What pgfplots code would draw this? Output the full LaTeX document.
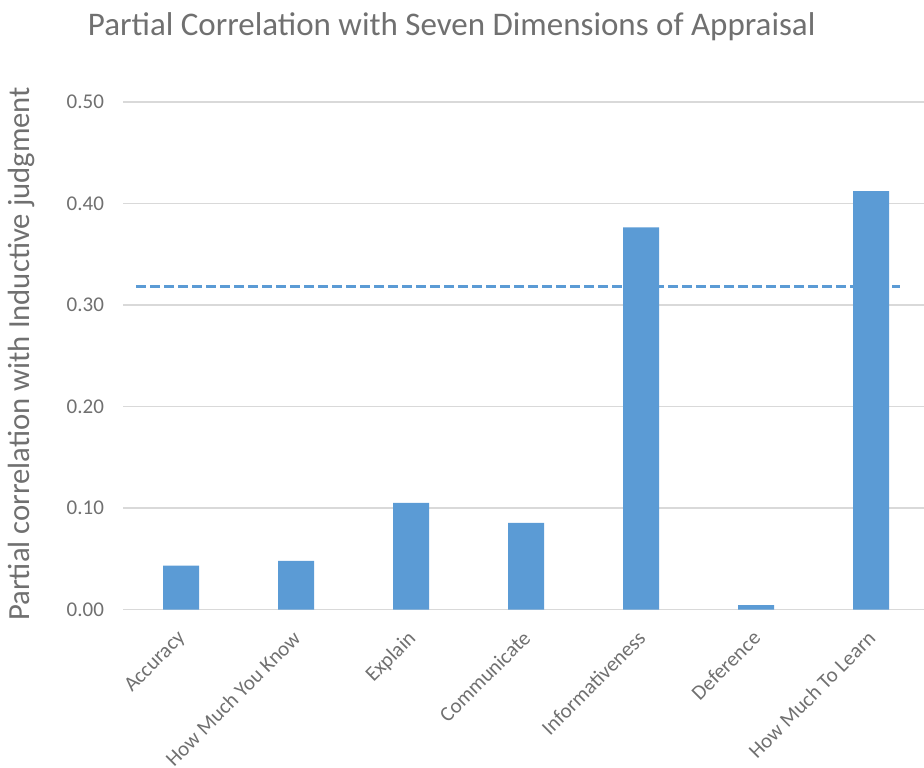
\documentclass[border=0pt]{standalone}
\usepackage{fontspec}
\setmainfont{Carlito}
\usepackage{pgfplots}
\pgfplotsset{compat=1.18}
\definecolor{barblue}{HTML}{5B9BD5}
\definecolor{gridc}{HTML}{D9D9D9}
\definecolor{txt}{HTML}{707070}
\begin{document}
\begin{tikzpicture}[x=1pt,y=1pt]
\path[use as bounding box] (0,0) rectangle (924,768);
\begin{axis}[
  at={(123.5pt,158.3pt)}, anchor=south west,
  scale only axis, width=800.5pt, height=507.7pt,
  xmin=-0.5, xmax=6.46, ymin=0, ymax=0.5,
  axis line style={draw=none},
  /pgf/number format/assume math mode=true,
  ytick={0,0.1,0.2,0.3,0.4,0.5},
  yticklabel style={/pgf/number format/fixed, /pgf/number format/fixed zerofill, /pgf/number format/precision=2,
    font=\fontsize{21}{21}\selectfont, color=txt, xshift=-16pt},
  ymajorgrids, grid style={gridc, line width=1.5pt},
  major tick length=0,
  xtick={0,1,2,3,4,5,6},
  xticklabels={Accuracy, How Much You Know, Explain, Communicate, Informativeness, Deference, How Much To Learn},
  xticklabel style={rotate=45, anchor=north east, inner sep=0pt, font=\fontsize{21}{21}\selectfont, color=txt, yshift=-10.5pt, xshift=-17pt},
  title={Partial Correlation with Seven Dimensions of Appraisal},
  title style={at={(rel axis cs:0.41,1.137)}, anchor=center, font=\fontsize{33}{33}\selectfont, color=txt},
  ylabel={Partial correlation with Inductive judgment},
  ylabel style={at={(rel axis cs:-0.127,0.504)}, anchor=center, font=\fontsize{30.7}{30.7}\selectfont, color=txt},
]
\addplot[ybar, bar width=36pt, fill=barblue, draw=none] coordinates {
  (0,0.0433) (1,0.0482) (2,0.1053) (3,0.0855) (4,0.3766) (5,0.0046) (6,0.4123)};
\addplot[barblue, line width=3pt, dash pattern=on 10pt off 4pt] coordinates {(-0.39,0.318) (6.25,0.318)};
\end{axis}
\end{tikzpicture}
\end{document}
